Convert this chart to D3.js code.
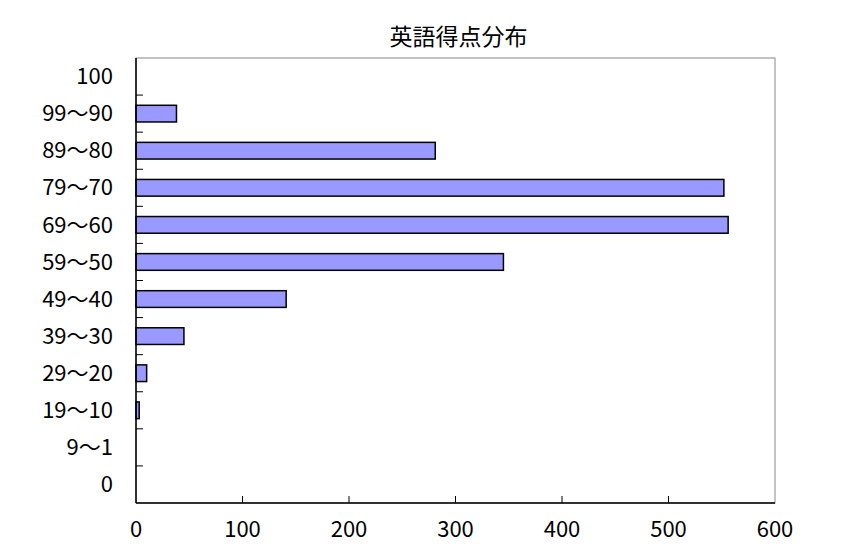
<!DOCTYPE html>
<html>
<head>
<meta charset="utf-8">
<script src="https://cdn.jsdelivr.net/npm/d3@7"></script>
<style>
  body { margin: 0; background: #fff; }
  text { font-family: "Noto Sans CJK JP", "DejaVu Sans", sans-serif; fill: #000; }
</style>
</head>
<body>
<div id="chart"></div>
<script>
const title = '英語得点分布';
const categories = ['100', '99～90', '89～80', '79～70', '69～60', '59～50', '49～40', '39～30', '29～20', '19～10', '9～1', '0'];
const counts = [0, 38, 281, 552, 556, 345, 141, 45, 10, 3, 0, 0];
const xTicks = [0, 100, 200, 300, 400, 500, 600];

const width = 855, height = 550;
const margin = { top: 58, right: 80, bottom: 47, left: 136 };
const w = width - margin.left - margin.right;
const h = height - margin.top - margin.bottom;

const svg = d3.select('#chart').append('svg')
  .attr('width', width).attr('height', height);

svg.append('text')
  .attr('x', margin.left + w / 2 + 3).attr('y', 45)
  .attr('text-anchor', 'middle')
  .style('font-size', '23px')
  .text(title);

const g = svg.append('g').attr('transform', `translate(${margin.left},${margin.top})`);

const x = d3.scaleLinear().domain([0, 600]).range([0, w]);
const y = d3.scaleBand().domain(categories).range([0, h]).paddingInner(0.55).paddingOuter(0.275);
const yb = d3.scaleBand().domain(categories).range([0, h]);

// frame
g.append('rect').attr('width', w).attr('height', h)
  .attr('fill', 'none').attr('stroke', '#888').attr('stroke-width', 1);

// bars
g.selectAll('.bar').data(counts).join('rect')
  .attr('class', 'bar')
  .attr('x', 0)
  .attr('y', (d, i) => y(categories[i]))
  .attr('width', d => x(d))
  .attr('height', y.bandwidth())
  .attr('fill', d => d > 0 ? '#9999ff' : 'none')
  .attr('stroke', d => d > 0 ? '#000' : 'none')
  .attr('stroke-width', 1.5);

// y ticks at category boundaries, pointing inward
g.selectAll('.ytick').data(categories.slice(1)).join('line')
  .attr('x1', 0).attr('x2', 7)
  .attr('y1', d => yb(d)).attr('y2', d => yb(d))
  .attr('stroke', '#000');

g.selectAll('.ylab').data(categories).join('text')
  .attr('x', -23)
  .attr('y', d => yb(d) + yb.bandwidth() / 2)
  .attr('dy', '0.35em')
  .attr('text-anchor', 'end')
  .style('font-size', '22px')
  .text(d => d);

// x ticks pointing inward
g.selectAll('.xtick').data(xTicks.slice(1, -1)).join('line')
  .attr('x1', d => x(d)).attr('x2', d => x(d))
  .attr('y1', h).attr('y2', h - 7)
  .attr('stroke', '#000');

g.selectAll('.xlab').data(xTicks).join('text')
  .attr('x', d => x(d)).attr('y', h + 34)
  .attr('text-anchor', 'middle')
  .style('font-size', '22px')
  .text(d => d);

// axis lines
g.append('line').attr('x1', 0).attr('x2', 0).attr('y1', 0).attr('y2', h).attr('stroke', '#000').attr('stroke-width', 1.5);
g.append('line').attr('x1', 0).attr('x2', w).attr('y1', h).attr('y2', h).attr('stroke', '#000').attr('stroke-width', 1.5);
</script>
</body>
</html>
